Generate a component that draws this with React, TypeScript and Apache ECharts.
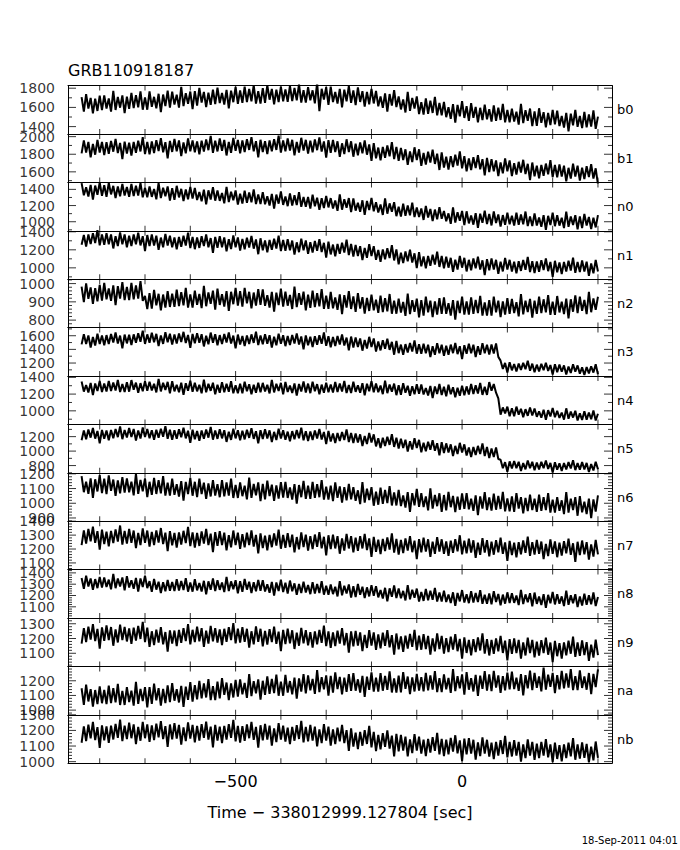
import React, { useEffect, useRef } from "react";
import * as echarts from "echarts";

// ---- data ----
const TITLE = "GRB110918187";
const X_TITLE = "Time \u2212 338012999.127804 [sec]";
const DATE_TEXT = "18-Sep-2011 04:01";
const DETECTORS = ["b0", "b1", "n0", "n1", "n2", "n3", "n4", "n5", "n6", "n7", "n8", "n9", "na", "nb"];
const T_START = -840; // first bin time (s)
const T_BIN = 5; // bin width (s)
const X_MIN = -870;
const X_MAX = 331;
const X_TICKS = [-800, -700, -600, -500, -400, -300, -200, -100, 0, 100, 200, 300];
const X_LABELS = [-500, 0];

const B0 = [1707,1555,1739,1587,1699,1539,1691,1563,1723,1571,
1725,1589,1693,1557,1773,1573,1709,1597,1725,1541,
1712,1584,1752,1592,1728,1600,1768,1576,1704,1576,
1766,1606,1710,1590,1742,1550,1734,1614,1774,1598,
1765,1629,1733,1597,1813,1613,1749,1637,1765,1581,
1770,1618,1802,1650,1762,1602,1754,1626,1786,1634,
1806,1646,1750,1630,1782,1590,1774,1654,1814,1638,
1776,1648,1816,1656,1792,1664,1832,1640,1768,1640,
1800,1648,1832,1680,1792,1632,1784,1656,1816,1664,
1786,1658,1826,1666,1802,1674,1842,1650,1778,1650,
1810,1674,1778,1642,1858,1560,1794,1682,1810,1626,
1816,1656,1760,1640,1792,1600,1784,1664,1824,1648,
1777,1625,1809,1657,1769,1609,1761,1633,1793,1641,
1771,1611,1715,1595,1747,1555,1739,1619,1779,1603,
1715,1579,1683,1547,1763,1563,1699,1587,1715,1531,
1654,1526,1694,1534,1670,1542,1710,1518,1646,1518,
1658,1498,1602,1482,1634,1442,1626,1506,1666,1490,
1612,1460,1644,1492,1604,1444,1596,1468,1628,1476,
1581,1453,1621,1461,1597,1469,1637,1445,1573,1445,
1588,1452,1556,1420,1636,1436,1572,1460,1588,1404,
1559,1407,1591,1439,1551,1391,1543,1415,1575,1423,
1566,1406,1510,1390,1542,1350,1534,1414,1574,1398,
1512,1384,1552,1392,1528,1400,1568,1376,1504];
const B1 = [1810,1957,1818,1941,1764,1918,1795,1964,1818,1941,
1790,1937,1806,1952,1829,1975,1813,1929,1744,1944,
1809,1932,1786,1940,1816,1955,1832,1994,1801,1940,
1798,1945,1814,1960,1837,1983,1821,1937,1752,1952,
1826,1973,1834,1957,1780,1934,1811,1980,1834,1957,
1823,1946,1800,1954,1830,1969,1846,2008,1815,1954,
1832,1979,1840,1963,1786,1940,1817,1986,1840,1963,
1810,1957,1826,1972,1849,1995,1833,1949,1764,1964,
1826,1949,1803,1957,1833,1972,1849,2011,1818,1957,
1833,1980,1841,1964,1787,1941,1818,1987,1841,1964,
1807,1954,1823,1969,1846,1992,1830,1946,1761,1961,
1816,1963,1824,1947,1770,1924,1801,1970,1824,1947,
1772,1919,1788,1934,1811,1957,1795,1911,1726,1926,
1753,1876,1730,1884,1760,1899,1776,1938,1745,1884,
1725,1872,1733,1856,1679,1833,1710,1879,1733,1856,
1667,1814,1683,1829,1706,1852,1690,1806,1621,1821,
1648,1771,1625,1779,1655,1794,1671,1833,1640,1779,
1605,1752,1621,1767,1644,1790,1628,1744,1559,1759,
1598,1745,1606,1729,1552,1706,1583,1752,1606,1729,
1552,1699,1568,1714,1591,1737,1575,1691,1506,1706,
1548,1671,1525,1679,1555,1694,1571,1733,1540,1679,
1538,1685,1546,1669,1492,1646,1523,1692,1546,1669,
1501,1648,1517,1663,1540,1686,1524,1640,1455];
const N0 = [1477,1327,1425,1312,1455,1274,1447,1334,1485,1319,
1451,1308,1481,1338,1443,1293,1436,1315,1466,1323,
1429,1308,1466,1316,1444,1323,1481,1301,1421,1301,
1435,1307,1405,1277,1480,1292,1420,1315,1435,1262,
1414,1271,1444,1301,1406,1256,1399,1278,1429,1286,
1418,1268,1366,1253,1396,1215,1388,1275,1426,1260,
1386,1258,1356,1228,1431,1243,1371,1266,1386,1213,
1346,1225,1383,1233,1361,1240,1398,1218,1338,1218,
1366,1216,1314,1201,1344,1163,1336,1223,1374,1208,
1313,1192,1350,1200,1328,1207,1365,1185,1305,1185,
1305,1162,1335,1192,1297,1147,1290,1169,1320,1177,
1292,1164,1262,1134,1337,1149,1277,1172,1292,1119,
1287,1137,1235,1122,1265,1084,1257,1144,1295,1129,
1242,1114,1212,1084,1287,1099,1227,1122,1242,1069,
1185,1064,1222,1072,1200,1079,1237,1057,1177,1057,
1165,1022,1195,1052,1157,1007,1150,1029,1180,1037,
1133,1005,1103,975,1178,990,1118,1013,1133,960,
1129,979,1077,964,1107,926,1099,986,1137,971,
1097,954,1127,984,1089,939,1082,961,1112,969,
1074,953,1111,961,1089,968,1126,946,1066,946,
1103,953,1051,938,1081,900,1073,960,1111,945,
1080,952,1050,922,1125,937,1065,960,1080,907,
1066,923,1096,953,1058,908,1051,930,1081];
const N1 = [1256,1365,1235,1371,1263,1385,1276,1419,1249,1371,
1256,1385,1262,1371,1215,1351,1242,1392,1262,1371,
1228,1357,1242,1371,1262,1391,1249,1351,1187,1364,
1241,1370,1247,1356,1200,1336,1227,1377,1247,1356,
1227,1336,1206,1342,1234,1356,1247,1390,1220,1342,
1207,1336,1221,1350,1241,1370,1228,1330,1166,1343,
1223,1352,1229,1338,1182,1318,1209,1359,1229,1338,
1192,1321,1206,1335,1226,1355,1213,1315,1151,1328,
1194,1303,1173,1309,1201,1323,1214,1357,1187,1309,
1188,1317,1194,1303,1147,1283,1174,1324,1194,1303,
1155,1284,1169,1298,1189,1318,1176,1278,1114,1291,
1149,1258,1128,1264,1156,1278,1169,1312,1142,1264,
1126,1255,1132,1241,1085,1221,1112,1262,1132,1241,
1089,1198,1068,1204,1096,1218,1109,1252,1082,1204,
1038,1167,1052,1181,1072,1201,1059,1161,997,1174,
1017,1126,996,1132,1024,1146,1037,1180,1010,1132,
996,1125,1002,1111,955,1091,982,1132,1002,1111,
960,1089,974,1103,994,1123,981,1083,919,1096,
974,1103,980,1089,933,1069,960,1110,980,1089,
959,1068,938,1074,966,1088,979,1122,952,1074,
942,1071,956,1085,976,1105,963,1065,901,1078,
951,1060,930,1066,958,1080,971,1114,944,1066,
953,1082,959,1068,912,1048,939,1089,959];
const N2 = [983,898,1001,916,979,889,975,903,993,907,
1004,914,973,905,990,882,986,918,1008,910,
982,910,1004,914,990,918,1013,905,932,860,
948,863,966,881,944,854,940,868,958,872,
945,873,967,877,953,881,976,868,940,868,
961,884,943,866,988,876,952,889,961,858,
973,883,942,874,959,851,955,887,977,879,
959,874,977,892,955,865,951,879,969,883,
968,878,937,869,954,846,950,882,972,874,
956,879,938,861,983,871,947,884,956,853,
939,867,961,871,947,875,970,862,934,862,
955,865,924,856,941,833,937,869,959,861,
930,845,948,863,926,836,922,850,940,854,
912,840,934,844,920,848,943,835,907,835,
918,841,900,823,945,833,909,846,918,815,
910,825,928,843,906,816,902,830,920,834,
924,834,893,825,910,802,906,838,928,830,
902,830,924,834,910,838,933,825,897,825,
910,825,928,843,906,816,902,830,920,834,
916,839,898,821,943,831,907,844,916,813,
906,834,928,838,914,842,937,829,901,829,
932,842,901,833,918,810,914,846,936,838,
928,851,910,833,955,843,919,856,928];
const N3 = [1473,1621,1480,1605,1426,1582,1457,1629,1480,1605,
1461,1609,1477,1625,1500,1648,1485,1602,1414,1617,
1488,1613,1464,1620,1496,1636,1511,1675,1480,1620,
1496,1644,1503,1628,1449,1605,1480,1652,1503,1628,
1470,1618,1486,1634,1509,1657,1494,1611,1423,1626,
1490,1638,1497,1622,1443,1599,1474,1646,1497,1622,
1461,1609,1477,1625,1500,1648,1485,1602,1414,1617,
1472,1597,1448,1604,1480,1620,1495,1659,1464,1604,
1475,1623,1482,1607,1428,1584,1459,1631,1482,1607,
1447,1595,1463,1611,1486,1634,1471,1588,1400,1603,
1460,1585,1436,1592,1468,1608,1483,1647,1452,1592,
1432,1580,1448,1596,1471,1619,1456,1573,1385,1588,
1428,1576,1435,1560,1381,1537,1412,1584,1435,1560,
1369,1517,1385,1533,1408,1556,1393,1510,1322,1525,
1345,1470,1321,1477,1353,1493,1368,1532,1337,1477,
1336,1484,1343,1468,1289,1445,1320,1492,1343,1468,
1306,1454,1322,1470,1345,1493,1330,1447,1259,1462,
1336,1484,1343,1468,1289,1445,1320,1492,1343,1468,
1324,1472,1340,1488,1290,1235,1114,1201,1061,1212,
1093,1186,1075,1191,1099,1203,1110,1232,1087,1191,
1066,1176,1078,1188,1095,1205,1084,1171,1031,1182,
1067,1177,1072,1165,1032,1148,1055,1183,1072,1165,
1043,1136,1025,1141,1049,1153,1060,1182,1037];
const N4 = [1350,1230,1308,1218,1332,1188,1326,1236,1356,1224,
1326,1230,1356,1236,1338,1242,1368,1224,1320,1224,
1343,1229,1367,1253,1337,1217,1331,1235,1355,1241,
1346,1244,1322,1220,1382,1232,1334,1250,1346,1208,
1353,1233,1311,1221,1335,1191,1329,1239,1359,1227,
1335,1233,1311,1209,1371,1221,1323,1239,1335,1197,
1311,1215,1341,1221,1323,1227,1353,1209,1305,1209,
1324,1210,1348,1234,1318,1198,1312,1216,1336,1222,
1334,1232,1310,1208,1370,1220,1322,1238,1334,1196,
1345,1225,1303,1213,1327,1183,1321,1231,1351,1219,
1325,1211,1349,1235,1319,1199,1313,1217,1337,1223,
1314,1218,1344,1224,1326,1230,1356,1212,1308,1212,
1347,1227,1305,1215,1329,1185,1323,1233,1353,1221,
1325,1223,1301,1199,1361,1211,1313,1229,1325,1187,
1306,1192,1330,1216,1300,1180,1294,1198,1318,1204,
1315,1195,1273,1183,1297,1153,1291,1201,1321,1189,
1288,1174,1312,1198,1282,1162,1276,1180,1300,1186,
1292,1196,1322,1202,1304,1208,1334,1190,1286,1190,
1343,1241,1319,1217,1150,955,1040,970,1050,935,
1030,935,1050,955,1025,925,1020,940,1040,945,
1028,928,993,918,1013,893,1008,933,1033,923,
1000,915,980,895,1030,905,990,920,1000,885,
970,890,995,895,980,900,1005,885,965];
const N5 = [1151,1284,1165,1298,1186,1319,1172,1277,1109,1291,
1172,1284,1151,1291,1179,1305,1193,1340,1165,1291,
1187,1320,1194,1306,1145,1285,1173,1327,1194,1306,
1177,1289,1156,1296,1184,1310,1198,1345,1170,1296,
1155,1288,1169,1302,1190,1323,1176,1281,1113,1295,
1165,1277,1144,1284,1172,1298,1186,1333,1158,1284,
1169,1302,1176,1288,1127,1267,1155,1309,1176,1288,
1148,1281,1162,1295,1183,1316,1169,1274,1106,1288,
1168,1301,1175,1287,1126,1266,1154,1308,1175,1287,
1157,1269,1136,1276,1164,1290,1178,1325,1150,1276,
1139,1272,1153,1286,1174,1307,1160,1265,1097,1279,
1132,1244,1111,1251,1139,1265,1153,1300,1125,1251,
1112,1245,1119,1231,1070,1210,1098,1252,1119,1231,
1065,1177,1044,1184,1072,1198,1086,1233,1058,1184,
1037,1170,1044,1156,995,1135,1023,1177,1044,1156,
983,1116,997,1130,1018,1151,1004,1109,941,1123,
974,1107,981,1093,932,1072,960,1114,981,1093,
939,1051,918,1058,946,1072,960,1107,932,1058,
903,1036,917,1050,890,880,764,847,714,858,
759,864,764,853,726,836,748,869,764,853,
736,841,747,852,764,869,753,836,703,847,
742,831,726,836,748,847,759,875,737,836,
743,848,748,837,710,820,732,853,748];
const N6 = [1185,1075,1147,1064,1169,1036,1163,1080,1191,1069,
1167,1062,1189,1084,1161,1051,1156,1067,1178,1073,
1169,1075,1147,1053,1202,1064,1158,1081,1169,1042,
1146,1057,1173,1063,1157,1068,1184,1052,1140,1052,
1167,1057,1129,1046,1151,1018,1145,1062,1173,1051,
1146,1041,1168,1063,1140,1030,1135,1046,1157,1052,
1130,1041,1157,1047,1141,1052,1168,1036,1124,1036,
1142,1048,1120,1026,1175,1037,1131,1054,1142,1015,
1132,1027,1154,1049,1126,1016,1121,1032,1143,1038,
1146,1036,1108,1025,1130,997,1124,1041,1152,1030,
1119,1030,1146,1036,1130,1041,1157,1025,1113,1025,
1120,1015,1142,1037,1114,1004,1109,1020,1131,1026,
1110,1016,1088,994,1143,1005,1099,1022,1110,983,
1079,990,1106,996,1090,1001,1117,985,1073,985,
1091,981,1053,970,1075,942,1069,986,1097,975,
1068,974,1046,952,1101,963,1057,980,1068,941,
1056,951,1078,973,1050,940,1045,956,1067,962,
1069,959,1031,948,1053,920,1047,964,1075,953,
1039,950,1066,956,1050,961,1077,945,1033,945,
1047,942,1069,964,1041,931,1036,947,1058,953,
1031,942,1058,948,1042,953,1069,937,1025,937,
1042,948,1020,926,1075,937,1031,954,1042,915,
1048,938,1010,927,1032,899,1026,943,1054];
const N7 = [1228,1333,1239,1344,1256,1361,1245,1328,1195,1339,
1236,1325,1220,1330,1242,1341,1253,1369,1231,1330,
1239,1344,1244,1333,1206,1316,1228,1349,1244,1333,
1218,1323,1229,1334,1246,1351,1235,1318,1185,1329,
1226,1315,1210,1320,1232,1331,1243,1359,1221,1320,
1211,1316,1222,1327,1239,1344,1228,1311,1178,1322,
1223,1328,1228,1317,1190,1300,1212,1333,1228,1317,
1201,1306,1212,1317,1229,1334,1218,1301,1168,1312,
1207,1296,1191,1301,1213,1312,1224,1340,1202,1301,
1209,1314,1214,1303,1176,1286,1198,1319,1214,1303,
1188,1293,1199,1304,1216,1321,1205,1288,1155,1299,
1199,1304,1204,1293,1166,1276,1188,1309,1204,1293,
1176,1281,1187,1292,1204,1309,1193,1276,1143,1287,
1179,1268,1163,1273,1185,1284,1196,1312,1174,1273,
1160,1265,1171,1276,1188,1293,1177,1260,1127,1271,
1176,1281,1181,1270,1143,1253,1165,1286,1181,1270,
1166,1255,1150,1260,1172,1271,1183,1299,1161,1260,
1169,1274,1174,1263,1136,1246,1158,1279,1174,1263,
1148,1253,1159,1264,1176,1281,1165,1248,1115,1259,
1156,1245,1140,1250,1162,1261,1173,1289,1151,1250,
1160,1265,1165,1254,1127,1237,1149,1270,1165,1254,
1141,1246,1152,1257,1169,1274,1158,1241,1108,1252,
1156,1261,1161,1250,1123,1233,1145,1266,1161];
const N8 = [1355,1260,1375,1280,1350,1250,1345,1265,1365,1270,
1360,1275,1340,1255,1390,1265,1350,1280,1360,1245,
1370,1270,1335,1260,1355,1235,1350,1275,1375,1265,
1327,1232,1347,1252,1322,1222,1317,1237,1337,1242,
1319,1239,1344,1244,1329,1249,1354,1234,1314,1234,
1345,1245,1310,1235,1330,1210,1325,1250,1350,1240,
1335,1250,1315,1230,1365,1240,1325,1255,1335,1220,
1327,1232,1347,1252,1322,1222,1317,1237,1337,1242,
1335,1235,1300,1225,1320,1200,1315,1240,1340,1230,
1312,1217,1332,1237,1307,1207,1302,1222,1322,1227,
1292,1212,1317,1217,1302,1222,1327,1207,1287,1207,
1297,1212,1277,1192,1327,1202,1287,1217,1297,1182,
1282,1187,1302,1207,1277,1177,1272,1192,1292,1197,
1283,1183,1248,1173,1268,1148,1263,1188,1288,1178,
1261,1176,1241,1156,1291,1166,1251,1181,1261,1146,
1232,1152,1257,1157,1242,1162,1267,1147,1227,1147,
1243,1143,1208,1133,1228,1108,1223,1148,1248,1138,
1212,1132,1237,1137,1222,1142,1247,1127,1207,1127,
1218,1123,1238,1143,1213,1113,1208,1128,1228,1133,
1220,1135,1200,1115,1250,1125,1210,1140,1220,1105,
1226,1126,1191,1116,1211,1091,1206,1131,1231,1121,
1212,1127,1192,1107,1242,1117,1202,1132,1212,1097,
1192,1112,1217,1117,1202,1122,1227,1107,1187];
const N9 = [1165,1270,1176,1281,1193,1298,1182,1265,1132,1276,
1184,1289,1189,1278,1151,1261,1173,1294,1189,1278,
1180,1269,1164,1274,1186,1285,1197,1313,1175,1274,
1144,1249,1155,1260,1172,1277,1161,1244,1111,1255,
1165,1254,1149,1259,1171,1270,1182,1298,1160,1259,
1176,1281,1181,1270,1143,1253,1165,1286,1181,1270,
1172,1261,1156,1266,1178,1277,1189,1305,1167,1266,
1172,1277,1177,1266,1139,1249,1161,1282,1177,1266,
1147,1252,1158,1263,1175,1280,1164,1247,1114,1258,
1162,1267,1167,1256,1129,1239,1151,1272,1167,1256,
1154,1243,1138,1248,1160,1259,1171,1287,1149,1248,
1137,1242,1148,1253,1165,1270,1154,1237,1104,1248,
1147,1252,1152,1241,1114,1224,1136,1257,1152,1241,
1123,1228,1134,1239,1151,1256,1140,1223,1090,1234,
1126,1215,1110,1220,1132,1231,1143,1259,1121,1220,
1124,1229,1129,1218,1091,1201,1113,1234,1129,1218,
1097,1202,1108,1213,1125,1230,1114,1197,1064,1208,
1102,1191,1086,1196,1108,1207,1119,1235,1097,1196,
1085,1190,1096,1201,1113,1218,1102,1185,1052,1196,
1096,1201,1101,1190,1063,1173,1085,1206,1101,1190,
1073,1178,1084,1189,1101,1206,1090,1173,1040,1184,
1080,1169,1064,1174,1086,1185,1097,1213,1075,1174,
1082,1187,1087,1176,1049,1159,1071,1192,1087];
const NA = [1149,1035,1173,1059,1143,1023,1137,1041,1161,1047,
1137,1041,1167,1047,1149,1053,1179,1035,1131,1035,
1157,1055,1133,1031,1193,1043,1145,1061,1157,1019,
1156,1042,1180,1066,1150,1030,1144,1048,1168,1054,
1184,1064,1142,1052,1166,1022,1160,1070,1190,1058,
1170,1074,1200,1080,1182,1086,1212,1068,1164,1068,
1194,1080,1218,1104,1188,1068,1182,1086,1206,1092,
1210,1108,1186,1084,1246,1096,1198,1114,1210,1072,
1200,1104,1230,1110,1212,1116,1242,1098,1194,1098,
1240,1120,1198,1108,1222,1078,1216,1126,1246,1114,
1237,1135,1213,1111,1273,1123,1225,1141,1237,1099,
1233,1119,1257,1143,1227,1107,1221,1125,1245,1131,
1252,1132,1210,1120,1234,1090,1228,1138,1258,1126,
1222,1126,1252,1132,1234,1138,1264,1120,1216,1120,
1235,1121,1259,1145,1229,1109,1223,1127,1247,1133,
1224,1128,1254,1134,1236,1140,1266,1122,1218,1122,
1244,1142,1220,1118,1280,1130,1232,1148,1244,1106,
1259,1139,1217,1127,1241,1097,1235,1145,1265,1133,
1243,1129,1267,1153,1237,1117,1231,1135,1255,1141,
1263,1143,1221,1131,1245,1101,1239,1149,1269,1137,
1254,1152,1230,1128,1290,1140,1242,1158,1254,1116,
1238,1142,1268,1148,1250,1154,1280,1136,1232,1136,
1271,1151,1229,1139,1253,1109,1247,1157,1277];
const NB = [1121,1226,1132,1237,1149,1254,1138,1221,1088,1232,
1136,1225,1120,1230,1142,1241,1153,1269,1131,1230,
1145,1250,1150,1239,1112,1222,1134,1255,1150,1239,
1127,1232,1138,1243,1155,1260,1144,1227,1094,1238,
1142,1247,1147,1236,1109,1219,1131,1252,1147,1236,
1124,1229,1135,1240,1152,1257,1141,1224,1091,1235,
1135,1224,1119,1229,1141,1240,1152,1268,1130,1229,
1122,1227,1133,1238,1150,1255,1139,1222,1089,1233,
1136,1241,1141,1230,1103,1213,1125,1246,1141,1230,
1128,1217,1112,1222,1134,1233,1145,1261,1123,1222,
1130,1235,1135,1224,1097,1207,1119,1240,1135,1224,
1102,1207,1113,1218,1130,1235,1119,1202,1069,1213,
1096,1185,1080,1190,1102,1201,1113,1229,1091,1190,
1067,1172,1078,1183,1095,1200,1084,1167,1034,1178,
1066,1171,1071,1160,1033,1143,1055,1176,1071,1160,
1052,1141,1036,1146,1058,1157,1069,1185,1047,1146,
1036,1141,1047,1152,1064,1169,1053,1136,1003,1147,
1046,1151,1051,1140,1013,1123,1035,1156,1051,1140,
1032,1121,1016,1126,1038,1137,1049,1165,1027,1126,
1033,1138,1038,1127,1000,1110,1022,1143,1038,1127,
1011,1116,1022,1127,1039,1144,1028,1111,997,1122,
1017,1106,1001,1111,1023,1122,1034,1150,1012,1111,
1019,1124,1024,1113,995,1096,1008,1129,1024];

const VALUES = [B0, B1, N0, N1, N2, N3, N4, N5, N6, N7, N8, N9, NA, NB];
const Y_RANGES = [
  [1323, 1827], [1480, 2030], [888, 1486], [874, 1411], [759, 1024],
  [1010, 1719], [838, 1416], [700, 1369], [878, 1207], [1052, 1400],
  [1001, 1429], [1011, 1339], [968, 1298], [990, 1300],
];
const Y_MAJOR = [
  [1400, 1600, 1800], [1600, 1800, 2000], [1000, 1200, 1400], [1000, 1200, 1400],
  [800, 900, 1000], [1200, 1400, 1600], [1000, 1200, 1400], [800, 1000, 1200],
  [900, 1000, 1100, 1200], [1100, 1200, 1300, 1400], [1100, 1200, 1300, 1400],
  [1100, 1200, 1300], [1000, 1100, 1200], [1000, 1100, 1200, 1300],
];
const Y_MINOR_STEP = [100, 100, 100, 100, 20, 100, 100, 100, 20, 20, 20, 20, 20, 20];

const FONT = "DejaVu Sans";

function tickSeries(k: number, pts: number[][], size: number[], offset: number[], label?: any) {
  return {
    type: "scatter",
    xAxisIndex: 2 * k,
    yAxisIndex: 4 * k,
    data: pts,
    symbol: "rect",
    symbolSize: size,
    symbolOffset: offset,
    itemStyle: { color: "#000" },
    label: label || { show: false },
    labelLayout: { hideOverlap: false },
    clip: false,
    silent: true,
    z: 5,
  };
}

export default function App() {
  const ref = useRef<HTMLDivElement>(null);
  useEffect(() => {
    const chart = echarts.init(ref.current!, null, { renderer: "svg" });
    const grids: any[] = [];
    const xAxes: any[] = [];
    const yAxes: any[] = [];
    const series: any[] = [];
    const graphics: any[] = [];
    const top0 = 85.6;
    const h = 48.4;
    const nP = DETECTORS.length;
    DETECTORS.forEach((det, k) => {
      const top = top0 + k * h;
      grids.push({ left: 68, width: 544, top, height: h });
      const isLast = k === nP - 1;
      const xBase = {
        type: "value", gridIndex: k, min: X_MIN, max: X_MAX,
        splitLine: { show: false },
        axisLine: { show: true, onZero: false, lineStyle: { color: "#000", width: 1 } },
        axisTick: { show: false },
        axisLabel: { show: false },
      };
      xAxes.push({
        ...xBase, position: "bottom",
        axisLabel: isLast
          ? { show: true, customValues: X_LABELS, fontSize: 16, fontFamily: FONT, color: "#000", margin: 10,
              showMinLabel: true, showMaxLabel: true,
              formatter: (v: number) => (v < 0 ? "\u2212" + Math.abs(v) : String(v)) }
          : { show: false },
      });
      xAxes.push({ ...xBase, position: "top" });

      const [ymin, ymax] = Y_RANGES[k];
      const majors = Y_MAJOR[k].filter((v) => v >= ymin && v <= ymax);
      const step = Y_MINOR_STEP[k];
      const minors: number[] = [];
      for (let v = Math.ceil(ymin / step) * step; v <= ymax; v += step) {
        if (!majors.includes(v)) minors.push(v);
      }
      const yBase = {
        type: "value", gridIndex: k, min: ymin, max: ymax,
        splitLine: { show: false },
        axisLine: { show: true, onZero: false, lineStyle: { color: "#000", width: 1 } },
        axisTick: { show: false },
        axisLabel: { show: false },
      };
      yAxes.push({ ...yBase, position: "left" });
      yAxes.push({ ...yBase, position: "right" });
      yAxes.push({ ...yBase, position: "left", axisLine: { show: false, onZero: false } });
      yAxes.push({ ...yBase, position: "right", axisLine: { show: false, onZero: false } });

      series.push({
        type: "line",
        xAxisIndex: 2 * k,
        yAxisIndex: 4 * k,
        data: VALUES[k].map((v, i) => [T_START + i * T_BIN, v]),
        showSymbol: false,
        symbol: "none",
        clip: true,
        lineStyle: { color: "#000", width: 2 },
        silent: true,
      });

      // tick marks and tick labels, placed through the axes' own scales
      series.push(tickSeries(k, X_TICKS.map((t) => [t, ymin]), [1, 5], [0, -2.5]));
      series.push(tickSeries(k, X_TICKS.map((t) => [t, ymax]), [1, 5], [0, 2.5]));
      series.push(tickSeries(k, majors.map((v) => [X_MIN, v]), [8, 1], [4, 0], {
        show: true, position: "left", distance: 13, fontSize: 14, fontFamily: FONT, color: "#000",
        formatter: (p: any) => String(p.value[1]),
      }));
      series.push(tickSeries(k, majors.map((v) => [X_MAX, v]), [8, 1], [-4, 0]));
      series.push(tickSeries(k, minors.map((v) => [X_MIN, v]), [4, 1], [2, 0]));
      series.push(tickSeries(k, minors.map((v) => [X_MAX, v]), [4, 1], [-2, 0]));

      graphics.push({
        type: "text", x: 617, y: top + h / 2,
        style: { text: det, fontSize: 13, fontFamily: FONT, fill: "#000", verticalAlign: "middle", align: "left" },
      });
    });

    graphics.push({
      type: "text", x: 68, y: 70,
      style: { text: TITLE, fontSize: 16, fontFamily: FONT, fill: "#000", verticalAlign: "middle", align: "left" },
    });
    graphics.push({
      type: "text", x: 340, y: 812,
      style: { text: X_TITLE, fontSize: 16, fontFamily: FONT, fill: "#000", verticalAlign: "middle", align: "center" },
    });
    graphics.push({
      type: "text", x: 678, y: 840,
      style: { text: DATE_TEXT, fontSize: 10, fontFamily: FONT, fill: "#000", verticalAlign: "middle", align: "right" },
    });

    chart.setOption({
      animation: false,
      backgroundColor: "#fff",
      grid: grids,
      xAxis: xAxes,
      yAxis: yAxes,
      series,
      graphic: graphics,
    });
    return () => chart.dispose();
  }, []);
  return (
    <div
      ref={ref}
      style={{ position: "absolute", left: 0, top: 0, width: 680, height: 850, background: "#fff" }}
    />
  );
}
